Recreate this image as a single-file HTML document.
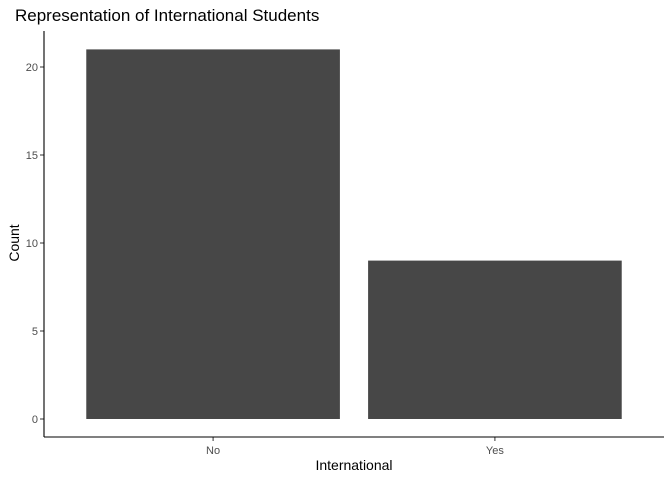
<!DOCTYPE html>
<html><head><meta charset="utf-8"><style>
body{margin:0;background:#fff;}
svg{display:block;font-family:"Liberation Sans",Arial,sans-serif;}
</style></head><body>
<svg id="chart" width="672" height="480">
<text x="15" y="21" font-size="17" fill="#000">Representation of International Students</text>
<text transform="translate(19,243) rotate(-90)" text-anchor="middle" font-size="14" fill="#000">Count</text>
<text x="354" y="470" text-anchor="middle" font-size="14" fill="#000">International</text>
<g id="bars"></g><g id="axes"></g>
</svg>
<script>
const categories=["No","Yes"];
const counts=[21,9];
const yTicks=[0,5,10,15,20];
const L=44,R=664,B=437;
function y(v){return 419-v*17.6;}
const step=(R-L)/(categories.length+0.2);
function xc(i){return L+(i+0.6)*step;}
const ns="http://www.w3.org/2000/svg";
const bars=document.getElementById('bars'),axes=document.getElementById('axes');
function mk(tag,attrs,parent){const e=document.createElementNS(ns,tag);for(const k in attrs)e.setAttribute(k,attrs[k]);parent.appendChild(e);return e;}
const bw=step*0.9;
counts.forEach((v,i)=>{
 const r=mk('rect',{x:xc(i)-bw/2,y:y(v),width:bw,height:y(0)-y(v),fill:'#474747'},bars);
 
 
 const t=mk('text',{x:xc(i),y:B+17,'text-anchor':'middle','font-size':'11',fill:'#4d4d4d'},axes);
 t.textContent=categories[i];
 
 
 mk('line',{x1:xc(i),x2:xc(i),y1:B,y2:B+4,stroke:'#333'},axes);
});
yTicks.forEach(v=>{
 const t=mk('text',{x:38,y:y(v)+4,'text-anchor':'end','font-size':'11',fill:'#4d4d4d'},axes);
 t.textContent=v;
 
 
 mk('line',{x1:L-4,x2:L,y1:y(v),y2:y(v),stroke:'#333'},axes);
});
const xa=mk('line',{x1:L,x2:R,y1:B,y2:B,stroke:'#000','stroke-width':1.1},axes);


const ya=mk('line',{x1:L,x2:L,y1:31,y2:B,stroke:'#000','stroke-width':1.1},axes);


</script>
</body></html>
